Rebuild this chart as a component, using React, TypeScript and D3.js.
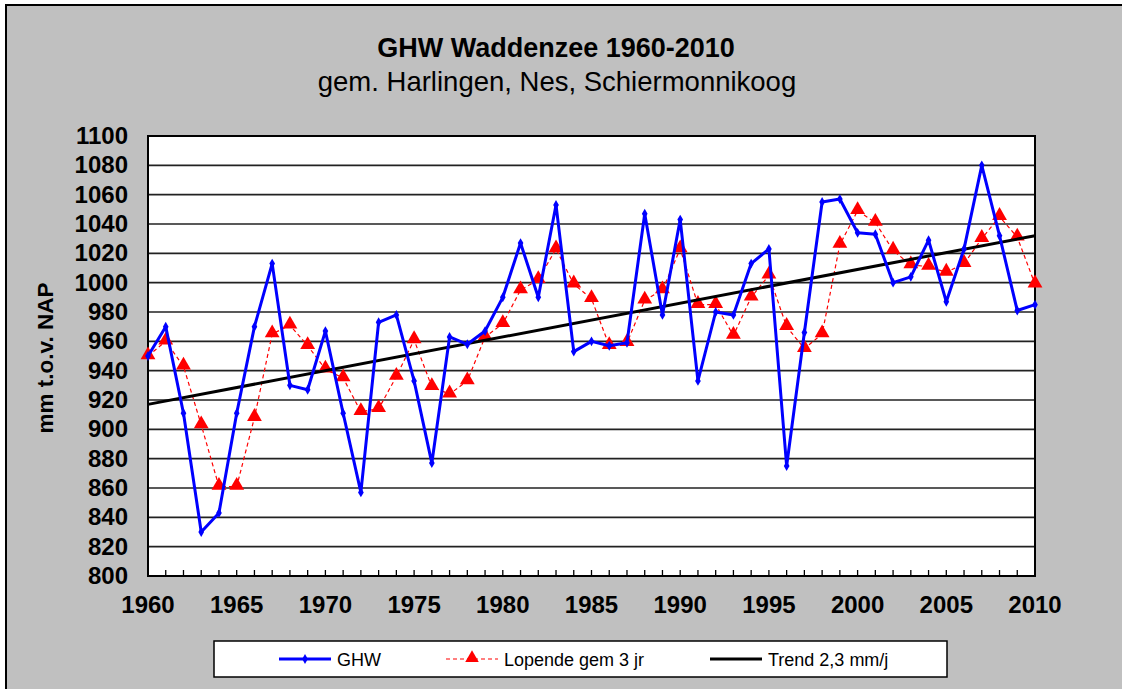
import * as d3 from "d3";

const years = d3.range(1960, 2011);

const ghw = [
  950, 970, 911, 830, 843, 911, 970, 1013, 930, 927,
  967, 911, 857, 973, 978, 933, 877, 963, 958, 967,
  990, 1027, 990, 1053, 953, 960, 957, 959, 1047, 978,
  1043, 933, 980, 978, 1013, 1023, 875, 966, 1055, 1057,
  1034, 1033, 1000, 1004, 1029, 987, 1023, 1080, 1032, 981,
  985,
];

const lopende = [
  950, 960, 943, 903, 861, 861, 908, 965, 971, 957,
  941, 935, 912, 914, 936, 961, 929, 924, 933, 963,
  972, 995, 1002, 1023, 999, 989, 957, 959, 988, 995,
  1023, 985, 985, 964, 990, 1005, 970, 955, 965, 1026,
  1049, 1041, 1022, 1012, 1011, 1007, 1013, 1030, 1045, 1031,
  999,
];

const trendYears = [1960, 2010];
const trendValues = [917, 1032];

const yTicks = d3.range(800, 1101, 20);
const xTickLabels = [1960, 1965, 1970, 1975, 1980, 1985, 1990, 1995, 2000, 2005, 2010];

const width = 1122;
const height = 689;
const margin = { left: 148, right: 1035, top: 136, bottom: 576 };
const font = "Arial, 'Liberation Sans', sans-serif";

export default function App() {
  const x = d3.scaleLinear().domain([1960, 2010]).range([margin.left, margin.right]);
  const y = d3.scaleLinear().domain([800, 1100]).range([margin.bottom, margin.top]);

  const line = d3
    .line<number>()
    .x((_, i) => x(years[i]))
    .y((d) => y(d));

  const trendLine = d3
    .line<number>()
    .x((_, i) => x(trendYears[i]))
    .y((d) => y(d));

  const diamond = d3.symbol().type(d3.symbolDiamond).size(28)();
  const triangle = d3.symbol().type(d3.symbolTriangle).size(95)();
  const smallTriangle = d3.symbol().type(d3.symbolTriangle).size(80)();

  return (
    <svg
      width={width}
      height={height}
      style={{ position: "absolute", left: 0, top: 0 }}
      fontFamily={font}
    >
      <rect x={0} y={0} width={width} height={height} fill="#fff" />
      <rect x={6} y={5} width={width + 10} height={height + 10} fill="#c0c0c0" stroke="#000" strokeWidth={2} />

      <text x={556} y={57} textAnchor="middle" fontSize={27} fontWeight="bold">
        GHW Waddenzee 1960-2010
      </text>
      <text x={557} y={91} textAnchor="middle" fontSize={27.5}>
        gem. Harlingen, Nes, Schiermonnikoog
      </text>

      {/* plot area */}
      <rect
        x={margin.left}
        y={margin.top}
        width={margin.right - margin.left}
        height={margin.bottom - margin.top}
        fill="#fff"
      />
      {yTicks.map((t) => (
        <line
          key={"g" + t}
          x1={margin.left}
          x2={margin.right}
          y1={y(t)}
          y2={y(t)}
          stroke="#222"
          strokeWidth={1.6}
        />
      ))}
      {years.map((yr) => (
        <line
          key={"t" + yr}
          x1={x(yr)}
          x2={x(yr)}
          y1={margin.bottom}
          y2={margin.bottom - 6}
          stroke="#000"
          strokeWidth={1.3}
        />
      ))}
      <rect
        x={margin.left}
        y={margin.top}
        width={margin.right - margin.left}
        height={margin.bottom - margin.top}
        fill="none"
        stroke="#000"
        strokeWidth={2}
      />

      {yTicks.map((t) => (
        <text key={"yl" + t} x={128} y={y(t) + 8} textAnchor="end" fontSize={24} fontWeight="bold">
          {t}
        </text>
      ))}
      {xTickLabels.map((t) => (
        <text key={"xl" + t} x={x(t)} y={613} textAnchor="middle" fontSize={24} fontWeight="bold">
          {t}
        </text>
      ))}
      <text
        transform={`translate(53, 358) rotate(-90)`}
        textAnchor="middle"
        fontSize={22.5}
        fontWeight="bold"
      >
        mm t.o.v. NAP
      </text>

      {/* series */}
      <path d={line(lopende) ?? ""} fill="none" stroke="#ff0000" strokeWidth={1.2} strokeDasharray="4,3" />
      {lopende.map((v, i) => (
        <path key={"tr" + i} d={triangle ?? ""} transform={`translate(${x(years[i])}, ${y(v) - 1})`} fill="#ff0000" />
      ))}
      <path d={trendLine(trendValues) ?? ""} fill="none" stroke="#000" strokeWidth={3} />
      <path d={line(ghw) ?? ""} fill="none" stroke="#0000ff" strokeWidth={3} strokeLinejoin="round" />
      {ghw.map((v, i) => (
        <path key={"d" + i} d={diamond ?? ""} transform={`translate(${x(years[i])}, ${y(v)})`} fill="#0000ff" />
      ))}

      {/* legend */}
      <rect x={214} y={641} width={733} height={36} fill="#fff" stroke="#000" strokeWidth={1.5} />
      <line x1={279} x2={331} y1={659} y2={659} stroke="#0000ff" strokeWidth={3} />
      <path d={diamond ?? ""} transform="translate(305, 659)" fill="#0000ff" />
      <text x={337} y={666} fontSize={18}>GHW</text>
      <line x1={446} x2={498} y1={659} y2={659} stroke="#ff0000" strokeWidth={1.2} strokeDasharray="4,3" />
      <path d={smallTriangle ?? ""} transform="translate(472, 658)" fill="#ff0000" />
      <text x={504} y={666} fontSize={18}>Lopende gem 3 jr</text>
      <line x1={710} x2={762} y1={659} y2={659} stroke="#000" strokeWidth={3} />
      <text x={768} y={666} fontSize={18}>Trend 2,3 mm/j</text>
    </svg>
  );
}
